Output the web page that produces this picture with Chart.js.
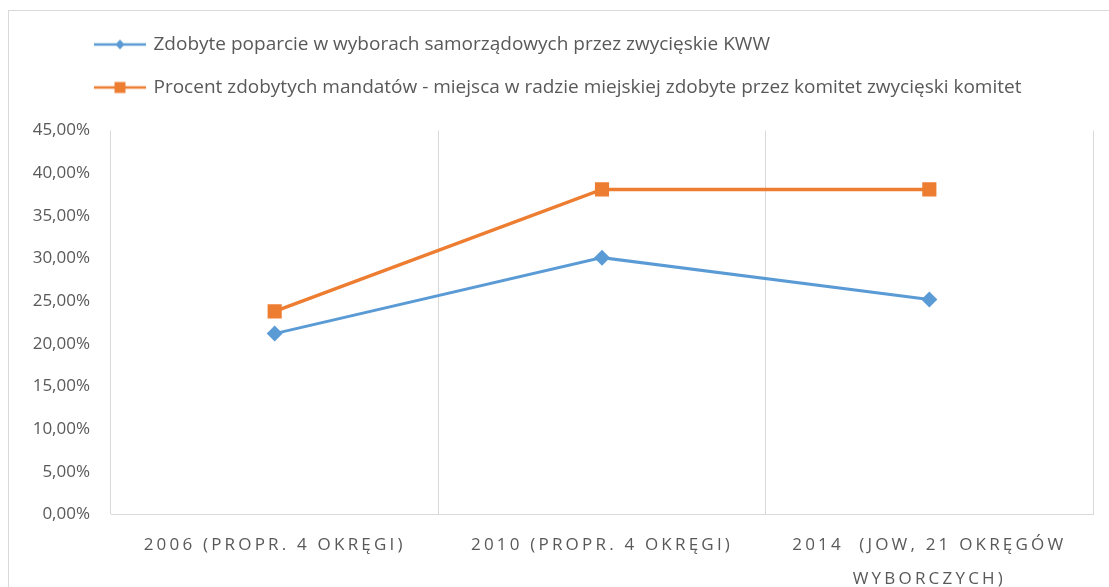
<!DOCTYPE html>
<html>
<head>
<meta charset="utf-8">
<script src="https://cdn.jsdelivr.net/npm/chart.js@4.4.1/dist/chart.umd.min.js"></script>
<style>
  html, body { margin: 0; padding: 0; background: #fff; }
  #wrap { position: relative; width: 1109px; height: 587px; overflow: hidden; }
  #frame { position: absolute; left: 8px; top: 10px; width: 1200px; height: 700px;
           border-left: 1px solid #d9d9d9; border-top: 1px solid #d9d9d9; pointer-events: none; }
</style>
</head>
<body>
<div id="wrap">
  <canvas id="chart" width="1109" height="587"></canvas>
  <div id="frame"></div>
</div>
<script>
// categories (x axis)
var years = [
  '2006 (PROPR. 4 OKRĘGI)',
  '2010 (PROPR. 4 OKRĘGI)',
  ['2014  (JOW, 21 OKRĘGÓW', 'WYBORCZYCH)']
];

// series, as fractions
var poparcie = [0.212, 0.301, 0.252];
var mandaty = [0.2381, 0.381, 0.381];

var seriesNames = [
  'Zdobyte poparcie w wyborach samorządowych przez zwycięskie KWW',
  'Procent zdobytych mandatów - miejsca w radzie miejskiej zdobyte przez komitet zwycięski komitet'
];

var blue = '#5b9bd5';
var orange = '#ed7d31';
var textGray = '#595959';
var gridGray = '#d9d9d9';

Chart.defaults.font.family = '"Open Sans", sans-serif';
Chart.defaults.color = textGray;

// small line + marker pictures for the legend, like Excel does it
function legendIcon(color, shape) {
  var c = document.createElement('canvas');
  c.width = 52;
  c.height = 16;
  var g = c.getContext('2d');
  g.strokeStyle = color;
  g.lineWidth = 2.5;
  g.beginPath();
  g.moveTo(0, 8);
  g.lineTo(52, 8);
  g.stroke();
  g.fillStyle = color;
  g.beginPath();
  if (shape === 'diamond') {
    g.moveTo(26, 3);
    g.lineTo(30.5, 8);
    g.lineTo(26, 13);
    g.lineTo(21.5, 8);
  } else {
    g.rect(20.5, 2.5, 11, 11);
  }
  g.closePath();
  g.fill();
  return c;
}
var icons = [legendIcon(blue, 'diamond'), legendIcon(orange, 'square')];

var tweaks = {
  id: 'tweaks',
  afterLayout: function (chart) {
    // legend starts further right than the axis labels
    chart.legend.left += 64;
    // spaced capitals on the category axis
    var s = chart.scales.x;
    if (!s._spaced) {
      var orig = s.drawLabels;
      s.drawLabels = function (area) {
        var ctx = this.ctx;
        var prev = ctx.letterSpacing;
        ctx.letterSpacing = '3.2px';
        orig.call(this, area);
        ctx.letterSpacing = prev;
      };
      s._spaced = true;
    }
  }
};

new Chart(document.getElementById('chart'), {
  type: 'line',
  data: {
    labels: years,
    datasets: [{
      label: seriesNames[0],
      data: poparcie,
      borderColor: blue,
      backgroundColor: blue,
      borderWidth: 3,
      pointStyle: 'rectRot',
      pointRadius: 8,
      pointBorderWidth: 0,
      pointBackgroundColor: blue
    }, {
      label: seriesNames[1],
      data: mandaty,
      borderColor: orange,
      backgroundColor: orange,
      borderWidth: 3.5,
      pointStyle: 'rect',
      pointRadius: 10,
      pointBorderWidth: 0,
      pointBackgroundColor: orange
    }]
  },
  options: {
    responsive: false,
    animation: false,
    layout: { padding: { left: 8, right: 16, top: 11, bottom: 0 } },
    plugins: {
      tooltip: { enabled: false },
      legend: {
        position: 'top',
        align: 'start',
        labels: {
          usePointStyle: true,
          pointStyleWidth: 48,
          padding: 24,
          color: textGray,
          font: { size: 19 },
          generateLabels: function (chart) {
            return chart.data.datasets.map(function (ds, i) {
              return {
                text: ds.label,
                pointStyle: icons[i],
                fillStyle: ds.borderColor,
                strokeStyle: ds.borderColor,
                lineWidth: 0,
                hidden: false,
                datasetIndex: i,
                fontColor: textGray
              };
            });
          }
        }
      },
      // empty title used only as a gap between legend and plot
      title: {
        display: true,
        text: '',
        weight: 500,
        padding: 0,
        font: { size: 10, lineHeight: '23.5px' }
      }
    },
    scales: {
      x: {
        offset: true,
        grid: { display: true, offset: true, color: gridGray, drawTicks: false },
        border: { display: true, color: gridGray },
        ticks: {
          autoSkip: false,
          maxRotation: 0,
          padding: 14,
          color: textGray,
          font: { size: 17, lineHeight: 2 }
        },
        afterFit: function (scale) { scale.height = 72.5; }
      },
      y: {
        min: 0,
        max: 0.45,
        grid: { display: false, drawTicks: false },
        border: { display: false },
        ticks: {
          stepSize: 0.05,
          padding: 21,
          color: textGray,
          font: { size: 17 },
          callback: function (v) {
            return (v * 100).toFixed(2).replace('.', ',') + '%';
          }
        },
        afterFit: function (scale) { scale.width = 103; }
      }
    }
  },
  plugins: [tweaks]
});
</script>
</body>
</html>
